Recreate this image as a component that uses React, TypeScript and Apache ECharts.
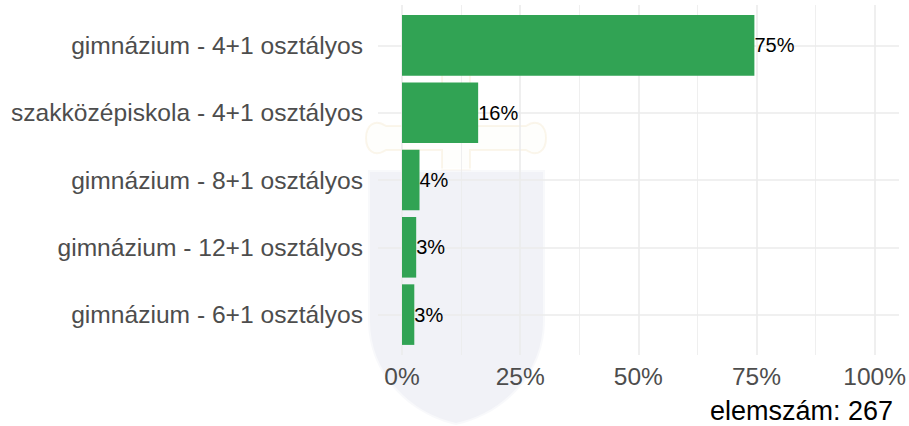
import React, { useEffect, useRef } from "react";
import * as echarts from "echarts";

const categories = [
  "gimnázium - 4+1 osztályos",
  "szakközépiskola - 4+1 osztályos",
  "gimnázium - 8+1 osztályos",
  "gimnázium - 12+1 osztályos",
  "gimnázium - 6+1 osztályos",
];
const values = [74.5, 16.1, 3.7, 3.0, 2.6];
const valueLabels = ["75%", "16%", "4%", "3%", "3%"];
const xTickStep = 25;
const xMin = 0;
const xMax = 100;
const caption = "elemszám: 267";

const FONT = "'Liberation Sans', Arial, Helvetica, sans-serif";

echarts.graphic.registerShape(
  "shieldMark",
  echarts.graphic.extendPath(
    "M0,0 L177,0 L177,150 C177,205 135,245 88,255 C42,245 0,205 0,150 Z",
    {}
  )
);
echarts.graphic.registerShape(
  "crossMark",
  echarts.graphic.extendPath(
    "M74,0 L102,0 L102,68 L158,68 C170,60 178,68 178,80 C178,92 170,100 158,92 L102,92 L102,112 L74,112 L74,92 L18,92 C6,100 -2,92 -2,80 C-2,68 6,60 18,68 L74,68 Z",
    {}
  )
);

export default function App() {
  const ref = useRef<HTMLDivElement>(null);
  useEffect(() => {
    document.body.style.margin = "0";
    if (!ref.current) return;
    const chart = echarts.init(ref.current, null, { renderer: "svg" });
    const W = 350;
    const unit = W / 5.2;
    const option: any = {
      animation: false,
      backgroundColor: "#ffffff",
      textStyle: { fontFamily: FONT },
      graphic: [
        {
          type: "crossMark",
          x: 368,
          y: 58,
          z: 0,
          silent: true,
          style: {
            fill: "rgba(245,232,200,0.06)",
            stroke: "rgba(235,215,170,0.22)",
            lineWidth: 2,
          },
        },
        {
          type: "shieldMark",
          x: 368,
          y: 170,
          z: 0,
          silent: true,
          style: {
            fill: "rgba(190,196,220,0.22)",
            stroke: "rgba(255,255,255,0.5)",
            lineWidth: 4,
          },
        },
        {
          type: "text",
          right: 16,
          top: 397,
          z: 20,
          style: {
            text: caption,
            fontSize: 27,
            lineHeight: 27,
            fill: "#000000",
            fontFamily: FONT,
          },
        },
      ],
      grid: [
        { left: 402, top: 5, width: 473, height: W },
        { left: 378, top: 5 + 0.6 * unit, width: 521, height: 4 * unit },
        { left: 402, top: 5 + 0.1 * unit, width: 473, height: 5 * unit },
      ],
      xAxis: [
        {
          gridIndex: 0,
          type: "value",
          z: 3,
          min: xMin,
          max: xMax,
          interval: xTickStep,
          axisLine: { show: false },
          axisTick: { show: false },
          minorTick: { show: false, splitNumber: 2 },
          splitLine: { show: true, lineStyle: { color: "#EBEBEB", width: 1.6 } },
          minorSplitLine: { show: true, lineStyle: { color: "#EBEBEB", width: 0.8 } },
          axisLabel: {
            formatter: (v: number) => `${v}%`,
            fontSize: 24.5,
            color: "#4D4D4D",
            margin: 9,
            fontFamily: FONT,
          },
        },
        {
          gridIndex: 1,
          type: "value",
          min: 0,
          max: 1,
          show: false,
        },
        {
          gridIndex: 2,
          type: "value",
          min: xMin,
          max: xMax,
          show: false,
        },
      ],
      yAxis: [
        { gridIndex: 0, type: "value", show: false },
        {
          gridIndex: 1,
          type: "value",
          z: 3,
          min: 0,
          max: 4,
          interval: 1,
          axisLine: { show: false },
          axisTick: { show: false },
          axisLabel: { show: false },
          splitLine: { show: true, lineStyle: { color: "#EBEBEB", width: 1.6 } },
        },
        {
          gridIndex: 2,
          type: "category",
          z: 3,
          inverse: true,
          data: categories,
          axisLine: { show: false },
          axisTick: { show: false },
          splitLine: { show: false },
          axisLabel: {
            fontSize: 24.6,
            color: "#4D4D4D",
            margin: 39,
            fontFamily: FONT,
          },
        },
      ],
      series: [
        {
          type: "bar",
          xAxisIndex: 2,
          yAxisIndex: 2,
          data: values,
          barCategoryGap: "10%",
          itemStyle: { color: "#31A354" },
          z: 10,
          label: {
            show: true,
            position: "right",
            distance: 0,
            formatter: (p: any) => valueLabels[p.dataIndex],
            fontSize: 20,
            color: "#000000",
            fontFamily: FONT,
          },
        },
      ],
    };
    chart.setOption(option);
    return () => chart.dispose();
  }, []);
  return <div ref={ref} style={{ width: 909, height: 426 }} />;
}
